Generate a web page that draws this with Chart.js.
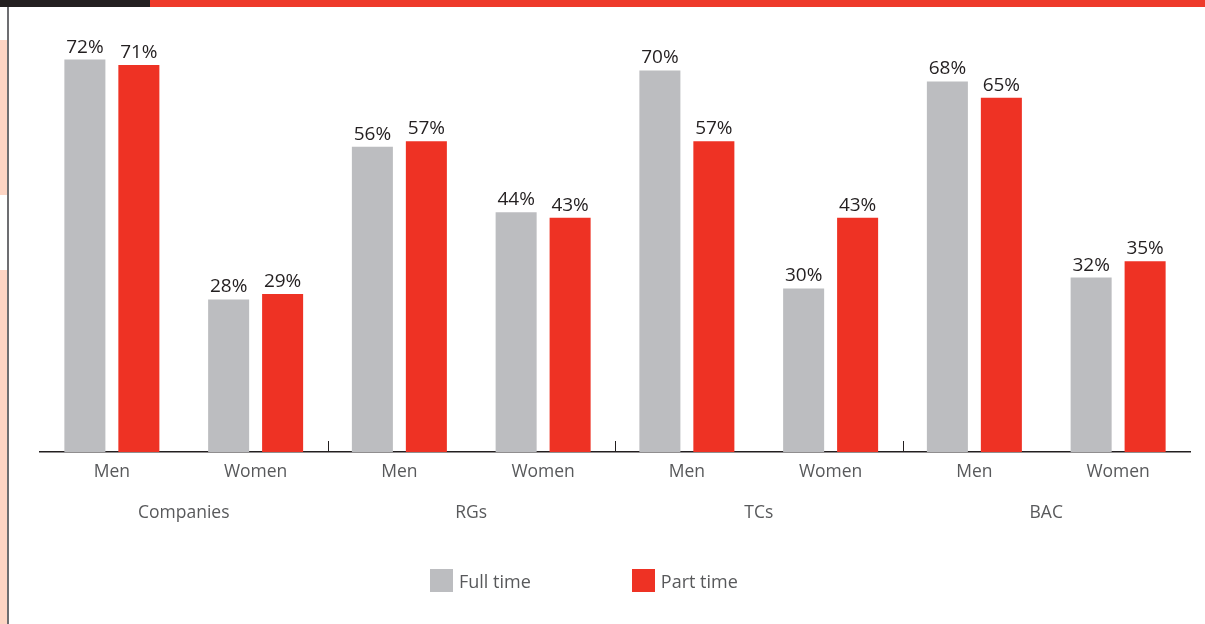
<!DOCTYPE html>
<html>
<head>
<meta charset="utf-8">
<script src="https://cdn.jsdelivr.net/npm/chart.js@4/dist/chart.umd.min.js"></script>
<style>
  html, body { margin: 0; padding: 0; background: #fff; }
  #wrap { position: relative; width: 1205px; height: 624px; overflow: hidden; font-family: 'Open Sans', sans-serif; }
  #bandDark { position: absolute; left: 0; top: 0; width: 150px; height: 7px; background: #231f20; }
  #bandRed { position: absolute; left: 150px; top: 0; width: 1055px; height: 7px; background: #ee3a2a; }
  #rule { position: absolute; left: 7px; top: 7px; width: 2px; height: 617px; background: #6d6e71; }
  .peach { position: absolute; left: 0; width: 7px; background: #fdd5c4; }
  #chartBox { position: absolute; left: 0; top: 7px; width: 1205px; height: 617px; }
  #legend { position: absolute; top: 569px; left: 430px; display: flex; }
  .item { display: flex; align-items: center; height: 23px; font-size: 18px; color: #58595b; }
  .item + .item { margin-left: 101px; }
  .swatch { width: 23px; height: 23px; margin-right: 6px; }
</style>
</head>
<body>
<div id="wrap">
  <div id="bandDark"></div>
  <div id="bandRed"></div>
  <div class="peach" style="top:40px;height:155px"></div>
  <div class="peach" style="top:270px;height:354px"></div>
  <div id="rule"></div>
  <div id="chartBox"><canvas id="chart"></canvas></div>
  <div id="legend"></div>
</div>
<script>
const groups = ["Companies", "RGs", "TCs", "BAC"];
const categories = ["Men", "Women", "Men", "Women", "Men", "Women", "Men", "Women"];
const fullTime = [72, 28, 56, 44, 70, 30, 68, 32];
const partTime = [71, 29, 57, 43, 57, 43, 65, 35];

const GREY = "#bcbdc0";
const RED = "#ee3224";
const FONT = "'Open Sans', sans-serif";

// value above each bar
const valueLabels = {
  id: "valueLabels",
  afterDatasetsDraw(chart) {
    const ctx = chart.ctx;
    ctx.save();
    ctx.font = "19px " + FONT;
    ctx.fillStyle = "#231f20";
    ctx.textAlign = "center";
    ctx.textBaseline = "bottom";
    chart.data.datasets.forEach((ds, i) => {
      chart.getDatasetMeta(i).data.forEach((bar, j) => {
        ctx.fillText(ds.data[j] + "%", bar.x, bar.y - 3);
      });
    });
    ctx.restore();
  }
};

// small upward ticks between groups
const groupTicks = {
  id: "groupTicks",
  afterDraw(chart) {
    const s = chart.scales.x2;
    const bottom = chart.chartArea.bottom;
    const ctx = chart.ctx;
    ctx.save();
    ctx.strokeStyle = "#231f20";
    ctx.lineWidth = 1;
    for (let i = 1; i < groups.length; i++) {
      const x = Math.round((s.getPixelForValue(i - 1) + s.getPixelForValue(i)) / 2) + 0.5;
      ctx.beginPath();
      ctx.moveTo(x, bottom);
      ctx.lineTo(x, bottom - 11);
      ctx.stroke();
    }
    ctx.restore();
  }
};

// html legend built from the datasets
const htmlLegend = {
  id: "htmlLegend",
  afterUpdate(chart) {
    const box = document.getElementById("legend");
    box.innerHTML = "";
    chart.data.datasets.forEach((ds) => {
      const item = document.createElement("div");
      item.className = "item";
      const sw = document.createElement("span");
      sw.className = "swatch";
      sw.style.background = ds.backgroundColor;
      const txt = document.createElement("span");
      txt.textContent = ds.label;
      item.appendChild(sw);
      item.appendChild(txt);
      box.appendChild(item);
    });
  }
};

new Chart(document.getElementById("chart"), {
  type: "bar",
  data: {
    labels: categories,
    datasets: [
      { label: "Full time", data: fullTime, backgroundColor: GREY },
      { label: "Part time", data: partTime, backgroundColor: RED }
    ]
  },
  options: {
    responsive: true,
    maintainAspectRatio: false,
    animation: false,
    layout: { padding: { left: 40, right: 15, top: 9, bottom: 90 } },
    datasets: { bar: { categoryPercentage: 0.751, barPercentage: 0.76 } },
    scales: {
      x: {
        grid: { display: false },
        border: { color: "#231f20", width: 1.5 },
        ticks: { color: "#58595b", font: { family: FONT, size: 17.5 }, padding: 2 }
      },
      x2: {
        type: "category",
        labels: groups,
        position: "bottom",
        grid: { display: false },
        border: { display: false },
        ticks: { color: "#58595b", font: { family: FONT, size: 17.5 }, padding: 10 }
      },
      y: {
        display: false,
        min: 0,
        max: 80
      }
    },
    plugins: {
      legend: { display: false },
      tooltip: { enabled: false }
    }
  },
  plugins: [valueLabels, groupTicks, htmlLegend]
});
</script>
</body>
</html>
